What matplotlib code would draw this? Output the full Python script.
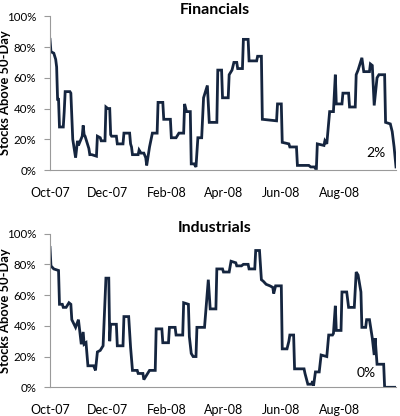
import matplotlib
matplotlib.use("Agg")
import matplotlib.pyplot as plt
import matplotlib.dates as mdates
import matplotlib.ticker as mticker
import pandas as pd

plt.rcParams["font.family"] = ["Lato", "DejaVu Sans"]

start_date = "2007-10-01"

# days since start, % of stocks above 50-day moving average
fin_days = [0, 1, 4, 6, 7, 8, 9, 10, 14, 15, 16, 21, 22, 24, 27, 29, 30, 32, 34, 35,
            36, 37, 41, 42, 44, 49, 50, 53, 54, 58, 59, 61, 63, 64, 65, 70, 71, 77, 78, 84,
            85, 86, 87, 93, 94, 96, 99, 101, 102, 105, 108, 113, 114, 119, 120, 127, 128, 133, 136, 141,
            142, 144, 148, 149, 152, 154, 156, 160, 162, 166, 168, 176, 177, 181, 182, 188, 189, 192, 194, 197,
            198, 203, 204, 209, 210, 218, 219, 223, 224, 239, 240, 244, 245, 252, 253, 260, 261, 273, 275, 279,
            280, 281, 282, 289, 290, 292, 295, 299, 301, 302, 308, 309, 315, 316, 322, 323, 325, 329, 331, 337,
            338, 340, 342, 345, 347, 353, 354, 359, 361, 363, 365]
fin_values = [85, 77, 76, 72, 67, 46, 46, 28, 28, 38, 51, 51, 50, 20, 8, 19, 16, 19, 22, 29,
              23, 22, 14, 10, 10, 9, 22, 21, 19, 19, 41, 40, 40, 23, 22, 22, 17, 17, 24, 24,
              17, 15, 10, 10, 13, 11, 11, 8, 3, 15, 24, 24, 44, 44, 33, 33, 21, 21, 24, 24,
              43, 38, 38, 4, 4, 2, 21, 21, 47, 55, 31, 31, 65, 65, 47, 47, 62, 65, 70, 70,
              66, 66, 85, 85, 71, 71, 74, 74, 33, 32, 43, 43, 18, 17, 15, 15, 3, 3, 2, 2,
              1, 1, 17, 16, 19, 17, 38, 38, 62, 43, 43, 50, 50, 41, 41, 62, 65, 73, 64, 64,
              69, 68, 42, 60, 62, 62, 31, 30, 25, 15, 2]

ind_days = [0, 1, 4, 9, 10, 13, 14, 17, 20, 22, 23, 27, 30, 33, 35, 36, 38, 40, 46, 48,
            50, 53, 56, 59, 62, 63, 64, 70, 71, 77, 78, 83, 85, 87, 92, 93, 98, 99, 102, 105,
            111, 112, 118, 119, 125, 126, 132, 133, 140, 141, 146, 147, 149, 151, 154, 155, 163, 167, 169, 175,
            176, 182, 183, 189, 191, 196, 197, 202, 204, 209, 210, 216, 217, 221, 223, 225, 228, 232, 235, 236,
            238, 244, 245, 250, 252, 253, 257, 258, 268, 269, 272, 276, 277, 278, 280, 284, 286, 292, 294, 298,
            299, 301, 302, 307, 308, 313, 315, 321, 323, 325, 328, 329, 333, 334, 337, 340, 342, 343, 345, 352,
            353, 365]
ind_values = [91, 79, 77, 76, 54, 54, 52, 52, 55, 54, 44, 39, 44, 28, 36, 28, 29, 14, 14, 11,
              23, 24, 27, 71, 71, 30, 41, 41, 27, 27, 46, 46, 26, 11, 11, 9, 9, 5, 8, 11,
              11, 38, 38, 29, 29, 39, 39, 34, 34, 55, 54, 33, 22, 20, 20, 39, 39, 70, 51, 51,
              77, 77, 75, 75, 82, 81, 79, 79, 80, 80, 77, 77, 89, 89, 70, 69, 67, 66, 65, 61,
              66, 66, 25, 25, 30, 34, 34, 12, 12, 9, 2, 2, 4, 1, 10, 10, 21, 20, 34, 34,
              35, 53, 37, 37, 62, 62, 52, 52, 75, 73, 62, 39, 39, 44, 44, 32, 21, 32, 15, 15,
              0, 0]

panels = [
    ("Financials", fin_days, fin_values, 0.5913, (376, 153)),
    ("Industrials", ind_days, ind_values, 0.069, (366, 373)),
]

line_color = "#15253f"
axis_color = "#9a9a9a"

fig = plt.figure(figsize=(4.0, 4.16), dpi=100)

for title, days, values, bottom, label_px in panels:
    dates = pd.Timestamp(start_date) + pd.to_timedelta(days, unit="D")
    ax = fig.add_axes([0.125, bottom, 0.865, 0.3695])
    ax.plot(dates, values, color=line_color, linewidth=2.0, solid_joinstyle="miter")

    ax.set_xlim(dates[0], dates[-1])
    ax.set_ylim(0, 100)
    ax.yaxis.set_major_locator(mticker.MultipleLocator(20))
    ax.yaxis.set_major_formatter(mticker.FuncFormatter(lambda v, _: f"{v:.0f}%"))
    ax.xaxis.set_major_locator(mdates.MonthLocator(bymonth=[10, 12, 2, 4, 6, 8]))
    ax.xaxis.set_major_formatter(mdates.DateFormatter("%b-%y"))

    for side in ("top", "right"):
        ax.spines[side].set_visible(False)
    for side in ("left", "bottom"):
        ax.spines[side].set_color(axis_color)
        ax.spines[side].set_linewidth(0.8)

    ax.tick_params(axis="y", length=4, color=axis_color, labelsize=8.3, pad=6)
    ax.tick_params(axis="x", length=0, labelsize=9, pad=12)

    ax.set_ylabel("Stocks Above 50-Day", fontsize=9.3, fontweight="bold")
    ax.yaxis.set_label_coords(-0.112, 0.5)

    # title sits over the whole chart area, slightly left of plot centre
    top_px = 416 * (1 - bottom - 0.3695)
    fig.text(215 / 400, 1 - (top_px - 6) / 416, title, ha="center", va="center",
             fontsize=11.5, fontweight="bold")

    fig.text(label_px[0] / 400, 1 - label_px[1] / 416, f"{values[-1]}%",
             ha="center", va="center", fontsize=10)

fig.savefig("out.png", dpi=100)
